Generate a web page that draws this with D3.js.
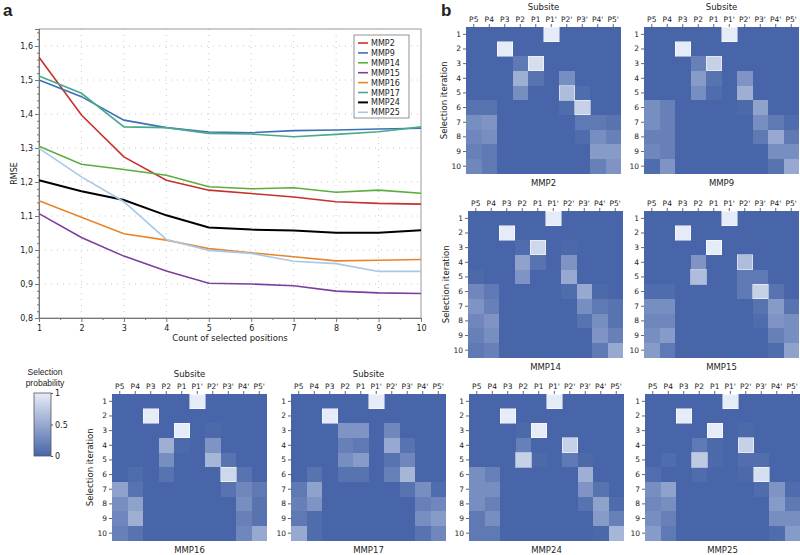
<!DOCTYPE html>
<html lang="en">
<head>
    <meta charset="UTF-8">
    <title>RMSE and selection probability</title>
    <script src="https://d3js.org/d3.v7.min.js"></script>
    <style>
        body { margin: 0; background: #fff; }
        svg text { font-family: "DejaVu Sans", Verdana, sans-serif; fill: #222; }
    </style>
</head>
<body>
    <script>
        // panel a: RMSE vs count of selected positions
        var counts = [1, 2, 3, 4, 5, 6, 7, 8, 9, 10];
        var seriesNames = ["MMP2", "MMP9", "MMP14", "MMP15", "MMP16", "MMP17", "MMP24", "MMP25"];
        var seriesColors = ["#c9302c", "#3e6fb8", "#5aae3f", "#7b3f9e", "#e8852a", "#49a98c", "#000000", "#a8c8e6"];
        var rmseMMP2  = [1.567, 1.397, 1.274, 1.205, 1.176, 1.166, 1.156, 1.142, 1.137, 1.135];
        var rmseMMP9  = [1.500, 1.451, 1.382, 1.360, 1.347, 1.345, 1.351, 1.353, 1.356, 1.358];
        var rmseMMP14 = [1.305, 1.252, 1.237, 1.220, 1.186, 1.180, 1.183, 1.170, 1.176, 1.167];
        var rmseMMP15 = [1.107, 1.037, 0.982, 0.938, 0.902, 0.900, 0.895, 0.879, 0.874, 0.872];
        var rmseMMP16 = [1.145, 1.096, 1.048, 1.029, 1.004, 0.992, 0.980, 0.968, 0.970, 0.972];
        var rmseMMP17 = [1.512, 1.461, 1.362, 1.360, 1.343, 1.341, 1.333, 1.340, 1.348, 1.362];
        var rmseMMP24 = [1.205, 1.173, 1.147, 1.102, 1.066, 1.060, 1.057, 1.051, 1.051, 1.058];
        var rmseMMP25 = [1.299, 1.215, 1.142, 1.031, 0.999, 0.990, 0.967, 0.960, 0.937, 0.937];
        var rmse = [rmseMMP2, rmseMMP9, rmseMMP14, rmseMMP15, rmseMMP16, rmseMMP17, rmseMMP24, rmseMMP25];
        var yTicks = [0.8, 0.9, 1.0, 1.1, 1.2, 1.3, 1.4, 1.5, 1.6];

        // panel b: selection probability, rows = iteration 1..10, cols = subsites
        var subsites = ["P5", "P4", "P3", "P2", "P1", "P1'", "P2'", "P3'", "P4'", "P5'"];
        var iterations = [1, 2, 3, 4, 5, 6, 7, 8, 9, 10];
        var probMMP2 = [
            [0, 0, 0, 0, 0, 1, 0, 0, 0, 0],
            [0, 0, 1, 0, 0, 0, 0, 0, 0, 0],
            [0, 0, 0, 0.15, 0.9, 0, 0, 0, 0, 0],
            [0, 0, 0, 0.55, 0.1, 0, 0.3, 0, 0, 0],
            [0, 0, 0, 0.3, 0, 0, 0.65, 0.05, 0, 0],
            [0.1, 0.1, 0, 0, 0, 0, 0.05, 0.8, 0, 0],
            [0.3, 0.35, 0, 0, 0, 0, 0, 0.15, 0.15, 0.1],
            [0.25, 0.3, 0, 0, 0, 0, 0, 0.05, 0.3, 0.2],
            [0.2, 0.15, 0, 0, 0, 0, 0, 0, 0.4, 0.4],
            [0.25, 0.15, 0, 0, 0, 0, 0, 0, 0.2, 0.35]
        ];
        var probMMP9 = [
            [0, 0, 0, 0, 0, 1, 0, 0, 0, 0],
            [0, 0, 1, 0, 0, 0, 0, 0, 0, 0],
            [0, 0, 0, 0.2, 0.8, 0, 0, 0, 0, 0],
            [0, 0, 0, 0.4, 0.1, 0, 0.35, 0, 0, 0],
            [0, 0, 0, 0.3, 0.05, 0, 0.55, 0, 0, 0],
            [0.3, 0.2, 0, 0, 0, 0, 0.03, 0.45, 0, 0],
            [0.3, 0.2, 0, 0, 0, 0, 0, 0.3, 0.15, 0.05],
            [0.2, 0.2, 0, 0, 0, 0, 0, 0.15, 0.5, 0.15],
            [0.25, 0.2, 0, 0, 0, 0, 0, 0, 0.3, 0.3],
            [0.05, 0.35, 0, 0, 0, 0, 0, 0, 0.1, 0.5]
        ];
        var probMMP14 = [
            [0, 0, 0, 0, 0, 1, 0, 0, 0, 0],
            [0, 0, 1, 0, 0, 0, 0, 0, 0, 0],
            [0, 0, 0, 0.05, 0.85, 0, 0.03, 0, 0, 0],
            [0, 0, 0, 0.45, 0.1, 0, 0.35, 0, 0, 0],
            [0.03, 0, 0, 0.35, 0, 0, 0.5, 0, 0, 0],
            [0.25, 0.15, 0, 0, 0, 0, 0.05, 0.5, 0.03, 0],
            [0.35, 0.2, 0, 0, 0, 0, 0, 0.3, 0.15, 0.1],
            [0.25, 0.35, 0, 0, 0, 0, 0, 0.1, 0.3, 0.1],
            [0.2, 0.3, 0, 0, 0, 0, 0, 0, 0.35, 0.2],
            [0.15, 0.2, 0, 0, 0, 0, 0, 0, 0.15, 0.5]
        ];
        var probMMP15 = [
            [0, 0, 0, 0, 0, 1, 0, 0, 0, 0],
            [0, 0, 1, 0, 0, 0, 0, 0, 0, 0],
            [0, 0, 0, 0, 1, 0, 0, 0, 0, 0],
            [0, 0, 0, 0.35, 0, 0, 0.65, 0, 0, 0],
            [0, 0, 0, 0.65, 0, 0, 0.15, 0.15, 0, 0],
            [0.05, 0.05, 0, 0, 0, 0, 0.15, 0.8, 0.1, 0],
            [0.3, 0.3, 0, 0, 0, 0, 0, 0.1, 0.4, 0.1],
            [0.25, 0.25, 0, 0, 0, 0, 0, 0.05, 0.35, 0.3],
            [0.3, 0.4, 0, 0, 0, 0, 0, 0, 0.2, 0.3],
            [0.4, 0.15, 0, 0, 0, 0, 0, 0, 0.05, 0.45]
        ];
        var probMMP16 = [
            [0, 0, 0, 0, 0, 1, 0, 0, 0, 0],
            [0, 0, 1, 0, 0, 0, 0, 0, 0, 0],
            [0, 0, 0, 0, 1, 0, 0.03, 0, 0, 0],
            [0, 0, 0, 0.55, 0.03, 0, 0.35, 0, 0, 0],
            [0, 0, 0, 0.3, 0, 0, 0.6, 0.1, 0, 0],
            [0, 0.05, 0, 0.1, 0, 0, 0, 0.85, 0.1, 0],
            [0.45, 0.1, 0, 0, 0, 0, 0, 0.1, 0.25, 0.15],
            [0.3, 0.45, 0, 0, 0, 0, 0, 0, 0.3, 0.1],
            [0.25, 0.55, 0, 0, 0, 0, 0, 0, 0.2, 0.1],
            [0.2, 0.1, 0, 0, 0, 0, 0, 0, 0.25, 0.5]
        ];
        var probMMP17 = [
            [0, 0, 0, 0, 0, 1, 0, 0, 0, 0],
            [0, 0, 1, 0, 0, 0, 0, 0, 0, 0],
            [0, 0, 0, 0.35, 0.35, 0, 0.25, 0, 0, 0],
            [0, 0, 0, 0.2, 0.15, 0, 0.5, 0.1, 0, 0],
            [0, 0, 0, 0.3, 0.4, 0, 0.1, 0.25, 0, 0],
            [0, 0.1, 0, 0.1, 0.1, 0, 0.2, 0.6, 0, 0],
            [0.15, 0.45, 0, 0, 0, 0, 0, 0.1, 0.3, 0.05],
            [0.2, 0.35, 0, 0, 0, 0, 0, 0, 0.2, 0.25],
            [0.15, 0.05, 0, 0, 0, 0, 0, 0, 0.3, 0.4],
            [0.5, 0.05, 0, 0, 0, 0, 0, 0, 0.1, 0.25]
        ];
        var probMMP24 = [
            [0, 0, 0, 0, 0, 1, 0, 0, 0, 0],
            [0, 0, 1, 0, 0, 0, 0, 0, 0, 0],
            [0, 0, 0, 0.03, 1, 0, 0, 0, 0, 0],
            [0, 0, 0, 0.2, 0, 0, 0.8, 0, 0, 0],
            [0, 0, 0, 0.8, 0.03, 0, 0.15, 0.03, 0, 0],
            [0.3, 0.2, 0, 0, 0, 0, 0, 0.55, 0, 0],
            [0.3, 0.3, 0, 0, 0, 0, 0, 0.35, 0.1, 0],
            [0.3, 0.2, 0, 0, 0, 0, 0, 0.1, 0.45, 0.05],
            [0.15, 0.3, 0, 0, 0, 0, 0, 0, 0.4, 0.2],
            [0.15, 0.15, 0, 0, 0, 0, 0, 0, 0.02, 0.6]
        ];
        var probMMP25 = [
            [0, 0, 0, 0, 0, 1, 0, 0, 0, 0],
            [0, 0, 1, 0, 0, 0, 0, 0, 0, 0],
            [0, 0, 0, 0, 1, 0, 0.03, 0, 0, 0],
            [0, 0, 0, 0.15, 0.03, 0, 0.8, 0, 0, 0],
            [0, 0.05, 0, 0.75, 0.03, 0, 0.07, 0.07, 0, 0],
            [0.07, 0, 0, 0.05, 0, 0, 0.03, 0.9, 0, 0],
            [0.3, 0.45, 0, 0, 0, 0, 0, 0.05, 0.35, 0.05],
            [0.25, 0.3, 0, 0, 0, 0, 0, 0, 0.4, 0.15],
            [0.3, 0.2, 0, 0, 0, 0, 0, 0, 0.3, 0.3],
            [0.4, 0.15, 0, 0, 0, 0, 0, 0, 0.05, 0.4]
        ];

        var width = 800, height = 555;
        var fmtComma = function(d) { return d3.format(".1f")(d).replace(".", ","); };

        var svg = d3.select("body").append("svg")
            .attr("width", width)
            .attr("height", height);

        // ---------- panel a ----------
        var plot = { left: 39, right: 421, top: 29, bottom: 318 };
        var x = d3.scaleLinear().domain([1, 10]).range([plot.left, plot.right]);
        var y = d3.scaleLinear().domain([0.8, 1.65]).range([plot.bottom, plot.top]);

        svg.append("text").attr("x", 3).attr("y", 16)
            .style("font-size", "17px").style("font-weight", "bold").style("font-family", "Arial, 'Liberation Sans', sans-serif")
            .text("a");

        var ga = svg.append("g");

        // dotted grid
        ga.append("g").selectAll("line").data(counts.slice(1, -1)).enter().append("line")
            .attr("x1", function(d) { return x(d); }).attr("x2", function(d) { return x(d); })
            .attr("y1", plot.top).attr("y2", plot.bottom)
            .attr("stroke", "#c8c8c8").attr("stroke-width", 1).attr("stroke-dasharray", "1,5");
        ga.append("g").selectAll("line").data(yTicks.slice(1)).enter().append("line")
            .attr("x1", plot.left).attr("x2", plot.right)
            .attr("y1", function(d) { return y(d); }).attr("y2", function(d) { return y(d); })
            .attr("stroke", "#c8c8c8").attr("stroke-width", 1).attr("stroke-dasharray", "1,5");

        // frame
        ga.append("rect")
            .attr("x", plot.left).attr("y", plot.top)
            .attr("width", plot.right - plot.left).attr("height", plot.bottom - plot.top)
            .attr("fill", "none").attr("stroke", "#9a9a9a").attr("stroke-width", 1);

        // axes
        var xAxis = d3.axisBottom(x).tickValues(counts).tickFormat(d3.format("d")).tickSize(4).tickPadding(3);
        var xMinor = d3.axisBottom(x).tickValues(d3.range(1.5, 10, 1)).tickSize(2).tickFormat("");
        var yAxis = d3.axisLeft(y).tickValues(yTicks).tickFormat(fmtComma).tickSize(4).tickPadding(2);
        var yMinor = d3.axisLeft(y).tickValues(d3.range(0.82, 1.65, 0.02).filter(function(v) {
            return Math.abs(v * 10 - Math.round(v * 10)) > 0.01;
        })).tickSize(2).tickFormat("");

        [xAxis, xMinor].forEach(function(ax) {
            ga.append("g").attr("class", "axis").attr("transform", "translate(0," + plot.bottom + ")").call(ax);
        });
        [yAxis, yMinor].forEach(function(ax) {
            ga.append("g").attr("class", "axis").attr("transform", "translate(" + plot.left + ",0)").call(ax);
        });
        ga.selectAll(".axis path").attr("stroke", "#777");
        ga.selectAll(".axis line").attr("stroke", "#777");
        ga.selectAll(".axis text").style("font-size", "8px").attr("fill", "#333");

        ga.append("text")
            .attr("x", (plot.left + plot.right) / 2).attr("y", 341)
            .attr("text-anchor", "middle").style("font-size", "8.5px")
            .text("Count of selected positions");
        ga.append("text")
            .attr("transform", "translate(17," + ((plot.top + plot.bottom) / 2) + ") rotate(-90)")
            .attr("text-anchor", "middle").style("font-size", "8px")
            .text("RMSE");

        var line = d3.line()
            .x(function(d, i) { return x(counts[i]); })
            .y(function(d) { return y(d); });

        ga.append("g").selectAll("path").data(rmse).enter().append("path")
            .attr("d", line)
            .attr("fill", "none")
            .attr("stroke", function(d, i) { return seriesColors[i]; })
            .attr("stroke-width", function(d, i) { return seriesNames[i] === "MMP24" ? 2 : 1.6; });

        // legend
        var lg = ga.append("g").attr("transform", "translate(354,35)");
        lg.append("rect").attr("width", 55).attr("height", 83)
            .attr("fill", "#fff").attr("stroke", "#777").attr("stroke-width", 0.8);
        var items = lg.selectAll("g.item").data(seriesNames).enter().append("g")
            .attr("transform", function(d, i) { return "translate(0," + (8 + i * 9.9) + ")"; });
        items.append("line").attr("x1", 4).attr("x2", 14).attr("y1", 0).attr("y2", 0)
            .attr("stroke", function(d, i) { return seriesColors[i]; })
            .attr("stroke-width", function(d) { return d === "MMP24" ? 2 : 1.6; });
        items.append("text").attr("x", 17).attr("y", 3).style("font-size", "8px").text(function(d) { return d; });

        // ---------- panel b ----------
        svg.append("text").attr("x", 441).attr("y", 16)
            .style("font-size", "17px").style("font-weight", "bold").style("font-family", "Arial, 'Liberation Sans', sans-serif")
            .text("b");

        var color = d3.scaleLinear().domain([0, 1]).range(["#4765a8", "#e6ecf7"]).interpolate(d3.interpolateRgb);

        var panels = [
            { name: "MMP2",  data: probMMP2,  left: 466, top: 27,  subsite: true,  ylab: true },
            { name: "MMP9",  data: probMMP9,  left: 644, top: 27,  subsite: true,  ylab: false },
            { name: "MMP14", data: probMMP14, left: 468, top: 211, subsite: false, ylab: true },
            { name: "MMP15", data: probMMP15, left: 644, top: 211, subsite: false, ylab: false },
            { name: "MMP16", data: probMMP16, left: 112, top: 394, subsite: true,  ylab: true },
            { name: "MMP17", data: probMMP17, left: 291, top: 394, subsite: true,  ylab: false },
            { name: "MMP24", data: probMMP24, left: 469, top: 394, subsite: false, ylab: false },
            { name: "MMP25", data: probMMP25, left: 645, top: 394, subsite: false, ylab: false }
        ];

        var cw = 15.5, ch = 14.65;

        panels.forEach(function(p) {
            var g = svg.append("g").attr("transform", "translate(" + p.left + "," + p.top + ")");
            var cx = d3.scaleBand().domain(subsites).range([0, cw * 10]);
            var cy = d3.scaleBand().domain(iterations).range([0, ch * 10]);

            var cells = [];
            p.data.forEach(function(row, r) {
                row.forEach(function(v, c) { cells.push({ r: iterations[r], c: subsites[c], v: v }); });
            });

            // dark background so no seams between cells
            g.append("rect").attr("width", cw * 10).attr("height", ch * 10).attr("fill", color(0));

            // dark cells first, then lighter ones on top so outlines show
            cells.sort(function(a, b) { return a.v - b.v; });
            g.selectAll("rect.cell").data(cells).enter().append("rect")
                .attr("class", "cell")
                .attr("x", function(d) { return cx(d.c); })
                .attr("y", function(d) { return cy(d.r); })
                .attr("width", cx.bandwidth())
                .attr("height", cy.bandwidth())
                .attr("shape-rendering", "crispEdges")
                .attr("fill", function(d) { return color(d.v); })
                .attr("stroke", function(d) { return d.v > 0.6 ? "#ffffff" : "none"; })
                .attr("stroke-opacity", 0.5)
                .attr("stroke-width", 1);

            var ax = g.append("g").call(d3.axisTop(cx).tickSize(3).tickPadding(2));
            var ay = g.append("g").call(d3.axisLeft(cy).tickSize(3).tickPadding(2));
            [ax, ay].forEach(function(a) {
                a.select(".domain").remove();
                a.selectAll("line").attr("stroke", "#666");
                a.selectAll("text").style("font-size", "7.5px").attr("fill", "#333");
            });

            g.append("text").attr("x", cw * 5).attr("y", ch * 10 + 12.5)
                .attr("text-anchor", "middle").style("font-size", "8.5px").text(p.name);

            if (p.subsite) {
                g.append("text").attr("x", cw * 5).attr("y", -17)
                    .attr("text-anchor", "middle").style("font-size", "8.5px").text("Subsite");
            }
            if (p.ylab) {
                g.append("text")
                    .attr("transform", "translate(-19," + (ch * 5) + ") rotate(-90)")
                    .attr("text-anchor", "middle").style("font-size", "8.5px").text("Selection iteration");
            }
        });

        // colour bar
        var cb = { left: 34, top: 393, w: 17, h: 63 };
        var defs = svg.append("defs");
        var grad = defs.append("linearGradient").attr("id", "cbar")
            .attr("x1", 0).attr("x2", 0).attr("y1", 1).attr("y2", 0);
        [0, 0.5, 1].forEach(function(t) {
            grad.append("stop").attr("offset", t).attr("stop-color", color(t));
        });
        svg.append("rect").attr("x", cb.left).attr("y", cb.top).attr("width", cb.w).attr("height", cb.h)
            .attr("fill", "url(#cbar)").attr("stroke", "#555").attr("stroke-width", 0.8);
        var cbScale = d3.scaleLinear().domain([0, 1]).range([cb.top + cb.h, cb.top]);
        var cbAxis = svg.append("g").attr("transform", "translate(" + (cb.left + cb.w) + ",0)")
            .call(d3.axisRight(cbScale).tickValues([0, 0.5, 1]).tickFormat(function(d) { return d === 0.5 ? "0.5" : d; }).tickSize(2).tickPadding(2));
        cbAxis.select(".domain").remove();
        cbAxis.selectAll("line").attr("stroke", "#555");
        cbAxis.selectAll("text").style("font-size", "8px").attr("fill", "#333");
        svg.append("text").attr("x", 45).attr("y", 375).attr("text-anchor", "middle")
            .style("font-size", "8.5px").style("font-family", "Arial, 'Liberation Sans', sans-serif").text("Selection");
        svg.append("text").attr("x", 45).attr("y", 386).attr("text-anchor", "middle")
            .style("font-size", "8.5px").style("font-family", "Arial, 'Liberation Sans', sans-serif").text("probability");
    </script>
</body>
</html>
